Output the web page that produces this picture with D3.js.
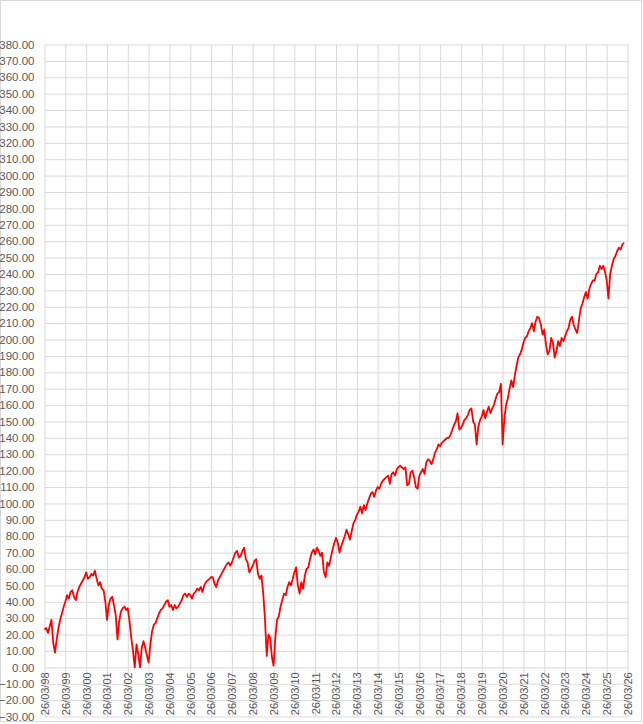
<!DOCTYPE html>
<html>
<head>
<meta charset="utf-8">
<script src="https://cdn.jsdelivr.net/npm/d3@7"></script>
<style>
  html, body { margin: 0; padding: 0; background: #fff; }
  svg { display: block; }
  text { font-family: "Liberation Sans Narrow", "Arial Narrow", "Liberation Sans", Arial, sans-serif; fill: #595959; }
</style>
</head>
<body>
<svg id="chart" width="643" height="724"></svg>
<script>
// ---- data ----
const xTickLabels = ["26/03/98","26/03/99","26/03/00","26/03/01","26/03/02","26/03/03","26/03/04",
  "26/03/05","26/03/06","26/03/07","26/03/08","26/03/09","26/03/10","26/03/11","26/03/12",
  "26/03/13","26/03/14","26/03/15","26/03/16","26/03/17","26/03/18","26/03/19","26/03/20",
  "26/03/21","26/03/22","26/03/23","26/03/24","26/03/25","26/03/26"];
const yTicks = [-30,-20,-10,0,10,20,30,40,50,60,70,80,90,100,110,120,130,140,150,160,170,180,
  190,200,210,220,230,240,250,260,270,280,290,300,310,320,330,340,350,360,370,380];
const seriesStart = "26/03/98"; // first monthly observation
// monthly values, Mar 1998 .. Jan 2026
const values = [
  23,24,21,25,29,15,9,17,24,29,            // 1998 (Mar-Dec)
  33,37,40,44,42,46,47,43,41,46,49,51,     // 1999
  53,55,58,54,55,57,56,59,54,50,52,48,     // 2000
  47,40,29,38,42,43,38,32,17,28,34,36,     // 2001
  37,35,36,28,18,10,0,14,8,0,12,16,        // 2002
  12,7,3,14,22,26,27,30,33,35,36,38,       // 2003
  40,41,37,38,35,38,36,37,39,41,44,45,     // 2004
  43,45,44,42,45,46,48,47,49,46,50,52,     // 2005
  53,54,55,55,51,49,53,55,57,59,61,63,     // 2006
  64,62,64,67,70,71,67,68,71,73,66,64,     // 2007
  58,60,62,65,66,57,54,56,45,30,7,20,      // 2008
  18,6,1,18,29,31,37,41,45,44,49,52,       // 2009
  50,54,58,61,50,45,52,48,56,60,61,66,     // 2010
  70,72,69,73,71,68,70,58,55,64,62,67,     // 2011
  72,76,79,76,70,74,77,80,84,81,78,83,     // 2012
  88,90,93,95,98,94,99,96,100,103,106,107, // 2013
  104,108,110,109,112,114,115,116,117,112,118,119, // 2014
  117,121,122,123,122,121,122,111,112,119,120,116, // 2015
  110,109,117,119,121,118,125,127,126,124,127,131, // 2016
  133,136,135,137,138,139,140,140,142,145,148,150, // 2017
  155,145,146,148,151,152,154,157,158,150,148,136, // 2018
  147,151,153,157,152,156,159,155,158,160,164,167, // 2019
  168,173,136,152,160,164,170,175,171,178,184,189, // 2020
  191,194,198,201,202,205,207,210,205,211,214,213, // 2021
  209,203,206,197,191,193,201,198,189,193,199,196, // 2022
  201,199,202,205,207,212,214,209,206,204,212,219, // 2023
  222,226,229,225,231,234,236,236,240,241,245,243, // 2024
  245,241,236,225,240,245,249,251,254,256,255,258, // 2025
  259                                              // 2026
];

// ---- chart ----
const svg = d3.select("#chart");
const W = 643, H = 724;
const plot = { left: 44.5, right: 627.5, top: 44.5, bottom: 716.5 };

const parse = d3.timeParse("%d/%m/%y");
const tickDates = xTickLabels.map(parse);
const start = parse(seriesStart);
const data = values.map((v, i) => ({ date: d3.timeMonth.offset(start, i), value: v }));

const x = d3.scaleTime()
  .domain([tickDates[0], tickDates[tickDates.length - 1]])
  .range([plot.left, plot.right]);
const y = d3.scaleLinear()
  .domain([d3.min(yTicks), d3.max(yTicks)])
  .range([plot.bottom, plot.top]);

// outer border
svg.append("rect")
  .attr("x", 0.5).attr("y", 0.5).attr("width", W - 2).attr("height", H - 3)
  .attr("fill", "#fff").attr("stroke", "#d9d9d9");

// horizontal grid + y labels via axis
const yAxis = d3.axisLeft(y)
  .tickValues(yTicks)
  .tickSize(-(plot.right - plot.left + 1))
  .tickPadding(10)
  .tickFormat(d3.format(".2f"));
const gy = svg.append("g")
  .attr("transform", `translate(${plot.left},0)`)
  .call(yAxis);
gy.select(".domain").remove();
gy.selectAll(".tick line").attr("stroke", "#d9d9d9");
gy.selectAll(".tick text")
  .attr("x", -10)
  .style("font-size", "11.5px")
  .attr("fill", "#595959");

// vertical grid via axis
const xGrid = d3.axisBottom(x)
  .tickValues(tickDates)
  .tickSize(-(plot.bottom - plot.top))
  .tickFormat("");
const gx = svg.append("g")
  .attr("transform", `translate(0,${plot.bottom})`)
  .call(xGrid);
gx.select(".domain").remove();
gx.selectAll(".tick line").attr("stroke", "#d9d9d9");

// x labels, rotated, hanging below the zero line
const xAxis = d3.axisBottom(x)
  .tickValues(tickDates)
  .tickSize(0)
  .tickFormat((d, i) => xTickLabels[i]);
const gxl = svg.append("g")
  .attr("transform", `translate(0,${y(0)})`)
  .call(xAxis);
gxl.select(".domain").remove();
gxl.selectAll(".tick text")
  .attr("transform", "rotate(-90)")
  .attr("text-anchor", "end")
  .attr("x", -5)
  .attr("y", 0)
  .attr("dy", "0.35em")
  .style("font-size", "11px")
  .attr("fill", "#595959");

// series line
const line = d3.line()
  .x(d => x(d.date))
  .y(d => y(d.value));
svg.append("path")
  .datum(data)
  .attr("fill", "none")
  .attr("stroke", "#ff0000")
  .attr("stroke-width", 1.8)
  .attr("stroke-linejoin", "round")
  .attr("d", line);
</script>
</body>
</html>
